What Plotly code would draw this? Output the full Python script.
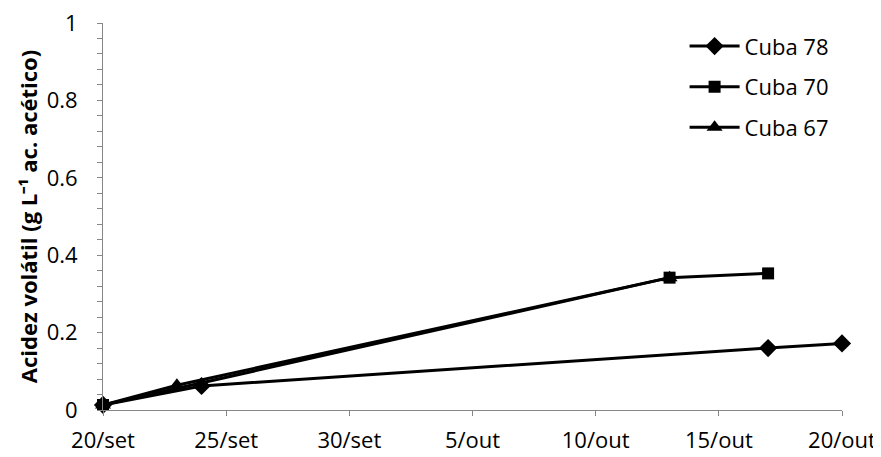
import plotly.graph_objects as go

# Data
cuba78_dates = ["2012-09-20", "2012-09-24", "2012-10-17", "2012-10-20"]
cuba78_vals = [0.013, 0.062, 0.160, 0.172]
cuba70_dates = ["2012-09-20", "2012-10-13", "2012-10-17"]
cuba70_vals = [0.013, 0.342, 0.353]
cuba67_dates = ["2012-09-20", "2012-09-23", "2012-10-13"]
cuba67_vals = [0.013, 0.064, 0.342]

tick_dates = ["2012-09-20", "2012-09-25", "2012-09-30", "2012-10-05",
              "2012-10-10", "2012-10-15", "2012-10-20"]
tick_labels = ["20/set", "25/set", "30/set", "5/out", "10/out", "15/out", "20/out"]
y_ticks = [0, 0.2, 0.4, 0.6, 0.8, 1]
y_labels = ["0", "0.2", "0.4", "0.6", "0.8", "1"]

FONT = "Open Sans"
FS = 22

fig = go.Figure()
series = [
    ("Cuba 78", cuba78_dates, cuba78_vals, "diamond", 14),
    ("Cuba 70", cuba70_dates, cuba70_vals, "square", 12),
    ("Cuba 67", cuba67_dates, cuba67_vals, "triangle-up", 14),
]
for name, xs, ys, sym, sz in series:
    fig.add_trace(go.Scatter(
        x=xs, y=ys, name=name, mode="lines+markers",
        line=dict(color="black", width=3),
        marker=dict(symbol=sym, size=sz, color="black"),
        cliponaxis=False, legendgroup=name,
    ))

# page has an 8px body margin, so the figure is 8px smaller and offset
fig.update_layout(
    width=873, height=449,
    margin=dict(l=95, r=39, t=15, b=47),
    paper_bgcolor="white", plot_bgcolor="white",
    font=dict(family=FONT, size=FS, color="black"),
    showlegend=True,
    legend=dict(x=0.787, y=0.994, xanchor="left", yanchor="top",
                font=dict(family=FONT, size=FS, color="black"),
                bgcolor="rgba(0,0,0,0)", tracegroupgap=9,
                itemwidth=50),
    xaxis=dict(
        type="date", range=["2012-09-20", "2012-10-20"],
        tickvals=tick_dates, ticktext=tick_labels,
        showgrid=False, zeroline=False, automargin=False,
        showline=True, linecolor="#868686", linewidth=1,
        ticks="outside", ticklen=5, tickcolor="#868686",
        ticklabelstandoff=6, ticklabeloverflow="allow",
        tickfont=dict(family=FONT, size=FS),
    ),
    yaxis=dict(
        range=[0, 1], tickvals=y_ticks, ticktext=y_labels,
        showgrid=False, zeroline=False, automargin=False,
        showline=True, linecolor="#868686", linewidth=1,
        ticks="outside", ticklen=5, tickcolor="#868686",
        ticklabelstandoff=15, ticklabeloverflow="allow",
        minor=dict(dtick=0.04, ticks="outside", ticklen=5, tickcolor="#868686", showgrid=False),
        tickfont=dict(family=FONT, size=FS),
        title=dict(text="<b>Acidez volátil (g L⁻¹ ac. acético)</b>",
                   font=dict(family=FONT, size=FS), standoff=2),
    ),
)

fig.write_html("out.html")
